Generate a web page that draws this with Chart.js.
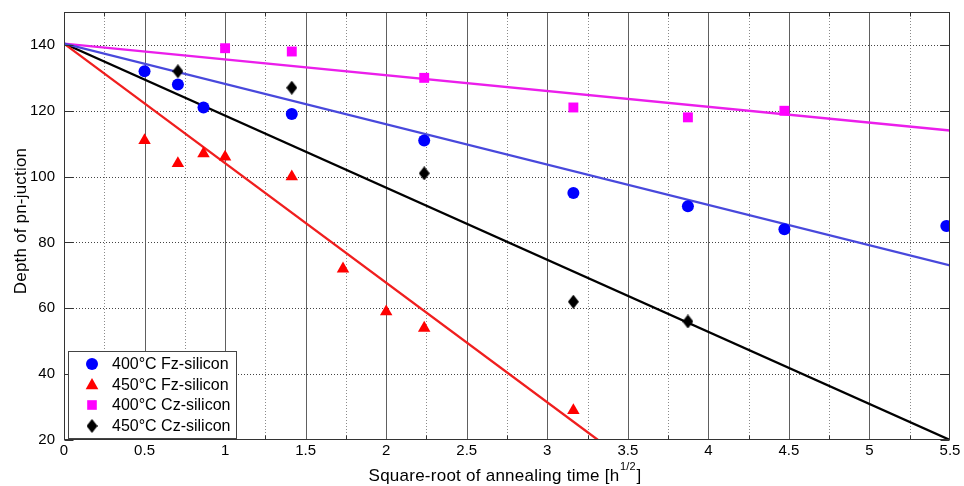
<!DOCTYPE html>
<html>
<head>
<meta charset="utf-8">
<script src="https://cdn.jsdelivr.net/npm/chart.js@4/dist/chart.umd.min.js"></script>
<style>
  html, body { margin: 0; padding: 0; background: #fff; }
  canvas { display: block; }
</style>
</head>
<body>
<canvas id="c" width="964" height="486"></canvas>
<script>
const FONT = '"Liberation Sans", Arial, Helvetica, sans-serif';

// x: square root of annealing time [h^1/2], y: depth of pn-junction
const fz400X = [0.5, 0.707, 0.866, 1.414, 2.236, 3.162, 3.873, 4.472, 5.477];
const fz400Y = [132, 128, 121, 119, 111, 95, 91, 84, 85];
const fz450X = [0.5, 0.707, 0.866, 1.0, 1.414, 1.732, 2.0, 2.236, 3.162];
const fz450Y = [111, 104, 107, 106, 100, 72, 59, 54, 29];
const cz400X = [1.0, 1.414, 2.236, 3.162, 3.873, 4.472];
const cz400Y = [139, 138, 130, 121, 118, 120];
const cz450X = [0.707, 1.414, 2.236, 3.162, 3.873];
const cz450Y = [132, 127, 101, 62, 56];

// linear fits, each as [x0, y0, x1, y1]
const fz400Fit = [0, 140.4, 5.5, 73];
const fz450Fit = [0, 140.4, 3.315, 20];
const cz400Fit = [0, 140.4, 5.5, 114];
const cz450Fit = [0, 140.4, 5.5, 20];

const seriesNames = ['400°C Fz-silicon', '450°C Fz-silicon', '400°C Cz-silicon', '450°C Cz-silicon'];

const xTicks = [0, 0.5, 1, 1.5, 2, 2.5, 3, 3.5, 4, 4.5, 5, 5.5];
const xMinor = [0.25, 0.75, 1.25, 1.75, 2.25, 2.75, 3.25, 3.75, 4.25, 4.75, 5.25];
const yTicks = [20, 40, 60, 80, 100, 120, 140];

const pts = (xs, ys) => xs.map((x, i) => ({ x, y: ys[i] }));
const fit = f => [{ x: f[0], y: f[1] }, { x: f[2], y: f[3] }];

// tall MATLAB-style diamond marker
function diamondMarker(w, h, color) {
  const c = document.createElement('canvas');
  c.width = w; c.height = h;
  const g = c.getContext('2d');
  g.fillStyle = color;
  g.beginPath();
  g.moveTo(w / 2, 0); g.lineTo(w, h / 2); g.lineTo(w / 2, h); g.lineTo(0, h / 2);
  g.closePath(); g.fill();
  return c;
}
const diamond = diamondMarker(11, 14, '#000');

const lineDs = (data, color) => ({
  data, showLine: true, borderColor: color, borderWidth: 2.3,
  pointRadius: 0, fill: false, order: 2
});

// grid lines, axis box, inward ticks, legend and axis titles
const axesPlugin = {
  id: 'axesBox',
  beforeDatasetsDraw(chart) {
    const { ctx, chartArea: a, scales: { x, y } } = chart;
    ctx.save();
    ctx.lineWidth = 1;
    // dotted minor verticals
    ctx.setLineDash([1, 2]);
    ctx.strokeStyle = '#8a8a8a';
    xMinor.forEach(v => {
      const px = Math.round(x.getPixelForValue(v)) + 0.5;
      ctx.beginPath(); ctx.moveTo(px, a.top); ctx.lineTo(px, a.bottom); ctx.stroke();
    });
    // dotted horizontals
    ctx.strokeStyle = '#444';
    yTicks.forEach(v => {
      if (v === y.min) return;
      const py = Math.round(y.getPixelForValue(v)) + 0.5;
      ctx.beginPath(); ctx.moveTo(a.left, py); ctx.lineTo(a.right, py); ctx.stroke();
    });
    // solid major verticals
    ctx.setLineDash([]);
    ctx.strokeStyle = '#606060';
    xTicks.forEach(v => {
      if (v === x.min || v === x.max) return;
      const px = Math.round(x.getPixelForValue(v)) + 0.5;
      ctx.beginPath(); ctx.moveTo(px, a.top); ctx.lineTo(px, a.bottom); ctx.stroke();
    });
    ctx.restore();
  },
  afterDatasetsDraw(chart) {
    const { ctx, chartArea: a, scales: { x, y } } = chart;
    ctx.save();
    ctx.lineWidth = 1;
    ctx.strokeStyle = '#333';
    const L = Math.round(a.left) + 0.5, R = Math.round(a.right) - 0.5;
    const T = Math.round(a.top) + 0.5, B = Math.round(a.bottom) - 0.5;
    ctx.strokeRect(L, T, R - L, B - T);
    ctx.beginPath();
    yTicks.forEach(v => {
      const py = Math.round(y.getPixelForValue(v)) + 0.5;
      ctx.moveTo(L, py); ctx.lineTo(L + 9, py);
      ctx.moveTo(R, py); ctx.lineTo(R - 9, py);
    });
    xMinor.forEach(v => {
      const px = Math.round(x.getPixelForValue(v)) + 0.5;
      ctx.moveTo(px, B); ctx.lineTo(px, B - 4);
      ctx.moveTo(px, T); ctx.lineTo(px, T + 4);
    });
    ctx.stroke();

    // legend
    const lx = 68.5, ly = 351.5, lw = 168, lh = 87;
    ctx.fillStyle = '#fff';
    ctx.fillRect(lx, ly, lw, lh);
    ctx.strokeStyle = '#444';
    ctx.strokeRect(lx, ly, lw, lh);
    const rows = [364, 384.5, 405, 426];
    const mx = 92;
    ctx.fillStyle = '#0000ff';
    ctx.beginPath(); ctx.arc(mx, rows[0], 6, 0, Math.PI * 2); ctx.fill();
    ctx.fillStyle = '#ff0000';
    ctx.beginPath();
    ctx.moveTo(mx, rows[1] - 6.5); ctx.lineTo(mx + 6.3, rows[1] + 4.8); ctx.lineTo(mx - 6.3, rows[1] + 4.8);
    ctx.closePath(); ctx.fill();
    ctx.fillStyle = '#ff00ff';
    ctx.fillRect(mx - 4.8, rows[2] - 4.8, 9.6, 9.6);
    ctx.drawImage(diamond, mx - 5.5, rows[3] - 7);

    ctx.fillStyle = '#000';
    ctx.font = '16px ' + FONT;
    ctx.textAlign = 'left';
    ctx.textBaseline = 'middle';
    seriesNames.forEach((s, i) => ctx.fillText(s, 112, rows[i] + 1));
    ctx.restore();
  },
  afterDraw(chart) {
    const { ctx, chartArea: a } = chart;
    ctx.save();
    ctx.fillStyle = '#000';
    ctx.font = '17px ' + FONT;
    ctx.letterSpacing = '0.2px';
    ctx.textBaseline = 'alphabetic';
    ctx.translate(26, (a.top + a.bottom) / 2 - 5);
    ctx.rotate(-Math.PI / 2);
    ctx.textAlign = 'center';
    ctx.fillText('Depth of pn-juction', 0, 0);
    ctx.restore();

    // x title with superscript exponent
    ctx.save();
    ctx.fillStyle = '#000';
    ctx.textBaseline = 'alphabetic';
    ctx.textAlign = 'left';
    ctx.letterSpacing = '0.25px';
    const base = 'Square-root of annealing time [h';
    const sup = '1/2';
    const tail = ']';
    ctx.font = '17px ' + FONT;
    const wBase = ctx.measureText(base).width;
    const wTail = ctx.measureText(tail).width;
    ctx.font = '11px ' + FONT;
    const wSup = ctx.measureText(sup).width;
    const total = wBase + wSup + 1 + wTail;
    let sx = 505 - total / 2;
    const by = 481;
    ctx.font = '17px ' + FONT;
    ctx.fillText(base, sx, by);
    sx += wBase;
    ctx.font = '11px ' + FONT;
    ctx.fillText(sup, sx + 0.5, by - 11);
    sx += wSup + 1;
    ctx.font = '17px ' + FONT;
    ctx.fillText(tail, sx, by);
    ctx.restore();
  }
};

new Chart(document.getElementById('c'), {
  type: 'scatter',
  data: {
    datasets: [
      lineDs(fit(fz400Fit), 'rgb(72,72,220)'),
      lineDs(fit(fz450Fit), 'rgb(240,30,30)'),
      lineDs(fit(cz400Fit), 'rgb(235,30,235)'),
      lineDs(fit(cz450Fit), '#000'),
      { label: seriesNames[0], data: pts(fz400X, fz400Y), pointStyle: 'circle', pointRadius: 6,
        pointBorderWidth: 0, backgroundColor: '#0000ff', borderColor: '#0000ff', order: 1 },
      { label: seriesNames[1], data: pts(fz450X, fz450Y), pointStyle: 'triangle', pointRadius: 7.2,
        pointBorderWidth: 0, backgroundColor: '#ff0000', borderColor: '#ff0000', order: 1 },
      { label: seriesNames[2], data: pts(cz400X, cz400Y), pointStyle: 'rect', pointRadius: 7,
        pointBorderWidth: 0, backgroundColor: '#ff00ff', borderColor: '#ff00ff', order: 1 },
      { label: seriesNames[3], data: pts(cz450X, cz450Y), pointStyle: diamond, pointRadius: 7,
        pointBorderWidth: 0, backgroundColor: '#000', borderColor: '#000', order: 1 }
    ]
  },
  options: {
    responsive: false,
    animation: false,
    devicePixelRatio: 1,
    events: [],
    layout: { padding: { top: 12, right: 14, left: 0, bottom: 0 } },
    plugins: { legend: { display: false }, tooltip: { enabled: false } },
    scales: {
      x: {
        type: 'linear', min: 0, max: 5.5,
        grid: { display: false, drawTicks: false },
        border: { display: false },
        afterBuildTicks: s => { s.ticks = xTicks.map(v => ({ value: v })); },
        afterFit: s => { s.height = 46; s.paddingLeft = 0; s.paddingRight = 0; },
        ticks: {
          font: { family: FONT, size: 15 }, color: '#000', padding: 2,
          maxRotation: 0, autoSkip: false, callback: v => String(v)
        }
      },
      y: {
        type: 'linear', min: 20, max: 150,
        grid: { display: false, drawTicks: false },
        border: { display: false },
        afterBuildTicks: s => { s.ticks = yTicks.map(v => ({ value: v })); },
        afterFit: s => { s.width = 64; s.paddingTop = 0; s.paddingBottom = 0; },
        ticks: {
          font: { family: FONT, size: 15 }, color: '#000', padding: 9,
          autoSkip: false, callback: v => String(v)
        }
      }
    }
  },
  plugins: [axesPlugin]
});
</script>
</body>
</html>
